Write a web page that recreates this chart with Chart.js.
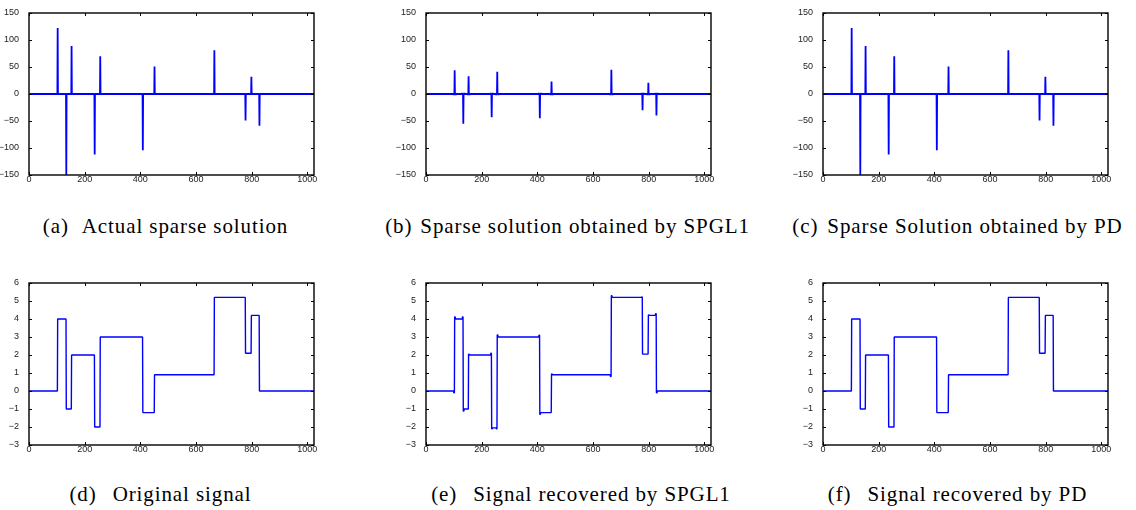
<!DOCTYPE html>
<html><head><meta charset="utf-8">
<script src="https://cdn.jsdelivr.net/npm/chart.js@4/dist/chart.umd.min.js"></script>
<style>
body{margin:0;background:#fff;width:1136px;height:510px;overflow:hidden;position:relative;}
.box{position:absolute;}
.cap{position:absolute;font-family:"Liberation Serif","DejaVu Serif",serif;font-size:21px;letter-spacing:0.9px;line-height:1;color:#000;white-space:nowrap;}
</style></head><body>
<div class="box" id="ba"><canvas id="ca" width="335" height="192"></canvas></div>
<div class="box" id="bb"><canvas id="cb" width="335" height="192"></canvas></div>
<div class="box" id="bc"><canvas id="cc" width="335" height="192"></canvas></div>
<div class="box" id="bd"><canvas id="cd" width="335" height="192"></canvas></div>
<div class="box" id="be"><canvas id="ce" width="335" height="192"></canvas></div>
<div class="box" id="bf"><canvas id="cf" width="335" height="192"></canvas></div>
<div id="caps"></div>
<script>
// ---------- data ----------
const signalLength = 1024;
const xTicks = [0, 200, 400, 600, 800, 1000];
const sparseYTicks = [-150, -100, -50, 0, 50, 100, 150];
const signalYTicks = [-3, -2, -1, 0, 1, 2, 3, 4, 5, 6];

// captions
const captionLabels = ['(a)', '(b)', '(c)', '(d)', '(e)', '(f)'];
const captionTexts = ['Actual sparse solution', 'Sparse solution obtained by SPGL1', 'Sparse Solution obtained by PD',
                      'Original signal', 'Signal recovered by SPGL1', 'Signal recovered by PD'];

// (a) actual sparse solution: spike positions and values
const spikePositions = [103, 134, 153, 236, 256, 409, 451, 666, 778, 799, 828];
const actualSpikes   = [122, -150, 89, -112, 70, -104, 51, 81, -49, 32, -59];
// (b) SPGL1 sparse solution: main spikes plus small side lobes
const spglSpikes     = [44, -55, 33, -43, 41, -45, 23, 45, -30, 21, -40];
const spglLobePositions = [100, 107, 130, 138, 150, 157, 232, 240, 252, 260, 405, 413, 448, 455, 662, 670, 775, 782, 796, 803, 825, 832];
const spglLobeValues    = [-2, -2, 2, 2, -2, -2, 2, 2, -2, -2, 2, 2, -2, -2, -2, -2, 2, 2, -2, -2, 2, 2];
// (c) PD sparse solution
const pdSpikes       = [122, -150, 89, -112, 70, -104, 51, 81, -49, 32, -59];

// (d) original piecewise-constant signal
const stepEdges  = [1, 103, 134, 153, 236, 256, 409, 451, 666, 778, 799, 828];
const stepLevels = [0, 4, -1, 2, -2, 3, -1.2, 0.9, 5.2, 2.1, 4.2, 0];
// (e) SPGL1 recovered signal: plateau level, value at start and end of each plateau
const spglLevels = [0, 4.0, -1.0, 2.0, -2.05, 3.0, -1.2, 0.9, 5.2, 2.05, 4.2, 0];
const spglStart  = [0, 4.12, -1.12, 2.05, -2.1, 3.12, -1.3, 0.95, 5.3, 2.05, 4.22, -0.1];
const spglEnd    = [-0.1, 4.12, -1.0, 2.1, -2.1, 3.1, -1.2, 0.8, 5.22, 2.05, 4.3, 0];
// (f) PD recovered signal
const pdLevels   = [0, 4, -1, 2, -2, 3, -1.2, 0.9, 5.2, 2.1, 4.2, 0];

// ---------- build full vectors ----------
function sparseVector(pos, vals, lobePos, lobeVals) {
  const v = new Array(signalLength).fill(0);
  if (lobePos) lobePos.forEach((p, i) => { v[p - 1] = lobeVals[i]; });
  pos.forEach((p, i) => { v[p - 1] = vals[i]; });
  return v.map((y, i) => ({ x: i + 1, y }));
}
function stepVector(edges, levels, starts, ends) {
  const v = [];
  for (let i = 1; i <= signalLength; i++) {
    let k = 0;
    while (k + 1 < edges.length && edges[k + 1] <= i) k++;
    let y = levels[k];
    const next = k + 1 < edges.length ? edges[k + 1] : signalLength + 1;
    if (starts && i - edges[k] < 3 && k > 0) y = starts[k];
    if (ends && next - i <= 3 && k + 1 < edges.length) y = ends[k];
    v.push({ x: i, y });
  }
  return v;
}

// ---------- captions layout ----------
const capCenter = [165.5, 567.5, 957.5, 160.5, 581, 957.5];
const capGap    = [13, 8, 9, 16, 16, 16];
const capBase   = [234, 234, 234, 502, 502, 502];
const capsDiv = document.getElementById('caps');
captionTexts.forEach((t, i) => {
  const d = document.createElement('div');
  d.className = 'cap';
  const a = document.createElement('span'); a.textContent = captionLabels[i];
  const b = document.createElement('span'); b.textContent = t; b.style.marginLeft = capGap[i] + 'px';
  d.appendChild(a); d.appendChild(b);
  capsDiv.appendChild(d);
  const w = d.getBoundingClientRect().width;
  d.style.left = (capCenter[i] - w / 2) + 'px';
  d.style.top = (capBase[i] - 0.8375 * 21) + 'px';
});

// ---------- chart helpers ----------
const L = [29.3, 425.7, 822.7];
const T = [13.3, 283.3];
const PADL = 40, PADT = 10;

const frame = {
  id: 'frame',
  afterDraw(c) {
    const { ctx, chartArea: a, scales: { x, y } } = c;
    ctx.save();
    ctx.strokeStyle = '#000';
    ctx.lineWidth = 1;
    const tl = 3;
    ctx.beginPath();
    xTicks.forEach(v => {
      const px = Math.round(x.getPixelForValue(v)) + 0.5;
      ctx.moveTo(px, a.bottom); ctx.lineTo(px, a.bottom - tl);
      ctx.moveTo(px, a.top); ctx.lineTo(px, a.top + tl);
    });
    y.ticks.forEach(t => {
      const py = Math.round(y.getPixelForValue(t.value)) + 0.5;
      ctx.moveTo(a.left, py); ctx.lineTo(a.left + tl, py);
      ctx.moveTo(a.right, py); ctx.lineTo(a.right - tl, py);
    });
    ctx.stroke();
    ctx.lineWidth = 1.4;
    ctx.strokeRect(a.left, a.top, a.right - a.left, a.bottom - a.top);
    ctx.restore();
  }
};

function fmt(v) { return v < 0 ? '\u2212' + Math.abs(v) : String(v); }

function makeChart(id, boxId, col, row, data, yTicks, lw) {
  const box = document.getElementById(boxId);
  box.style.left = (L[col] - PADL) + 'px';
  box.style.top = (T[row] - PADT) + 'px';
  const yMin = yTicks[0], yMax = yTicks[yTicks.length - 1];
  new Chart(document.getElementById(id), {
    type: 'line',
    data: { datasets: [{ data, borderColor: '#0000ff', borderWidth: lw, borderJoinStyle: 'bevel', borderDash: [100000, 0], pointRadius: 0, tension: 0, fill: false }] },
    options: {
      responsive: false, animation: false, parsing: true,
      layout: { padding: { top: PADT, right: 10, left: 0, bottom: 0 } },
      plugins: { legend: { display: false }, tooltip: { enabled: false } },
      scales: {
        x: {
          type: 'linear', min: 0, max: signalLength,
          afterFit(s) { s.height = 20; },
          afterBuildTicks(s) { s.ticks = xTicks.map(v => ({ value: v })); },
          ticks: { font: { family: 'Liberation Sans', size: 9 }, color: '#222', padding: -9, maxRotation: 0, autoSkip: false, callback: fmt },
          grid: { display: false }, border: { display: false }
        },
        y: {
          type: 'linear', min: yMin, max: yMax,
          afterFit(s) { s.width = PADL; },
          afterBuildTicks(s) { s.ticks = yTicks.map(v => ({ value: v })); },
          ticks: { font: { family: 'Liberation Sans', size: 9 }, color: '#222', padding: 2, autoSkip: false, callback: fmt },
          grid: { display: false }, border: { display: false }
        }
      }
    },
    plugins: [frame]
  });
}

makeChart('ca', 'ba', 0, 0, sparseVector(spikePositions, actualSpikes), sparseYTicks, 1.8);
makeChart('cb', 'bb', 1, 0, sparseVector(spikePositions, spglSpikes, spglLobePositions, spglLobeValues), sparseYTicks, 1.8);
makeChart('cc', 'bc', 2, 0, sparseVector(spikePositions, pdSpikes), sparseYTicks, 1.8);
makeChart('cd', 'bd', 0, 1, stepVector(stepEdges, stepLevels), signalYTicks, 1.4);
makeChart('ce', 'be', 1, 1, stepVector(stepEdges, spglLevels, spglStart, spglEnd), signalYTicks, 1.4);
makeChart('cf', 'bf', 2, 1, stepVector(stepEdges, pdLevels), signalYTicks, 1.4);
</script>
</body></html>
